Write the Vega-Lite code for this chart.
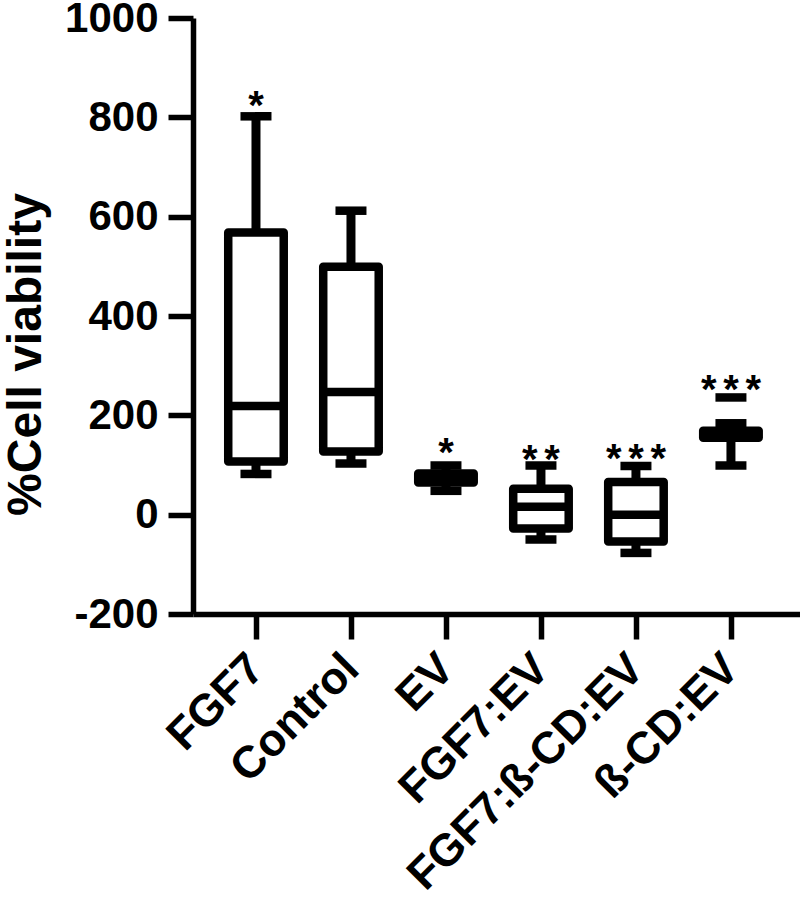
{
  "$schema": "https://vega.github.io/schema/vega-lite/v6.json",
  "autosize": {"type": "none"},
  "width": 607,
  "height": 596,
  "padding": {"left": 193, "top": 18, "right": 0, "bottom": 302},
  "background": "white",
  "config": {
    "view": {"stroke": null},
    "font": "Liberation Sans",
    "axis": {"domainColor": "black", "tickColor": "black", "labelColor": "black", "titleColor": "black", "grid": false}
  },
  "datasets": {
    "boxes": [
      {"group": "FGF7", "min": 82, "q1": 107, "median": 219, "q3": 568, "max": 802},
      {"group": "Control", "min": 103, "q1": 127, "median": 247, "q3": 499, "max": 612},
      {"group": "EV", "min": 48, "q1": 65, "median": 74, "q3": 83, "max": 99},
      {"group": "FGF7:EV", "min": -50, "q1": -28, "median": 16, "q3": 52, "max": 99},
      {"group": "FGF7:ß-CD:EV", "min": -77, "q1": -54, "median": 0, "q3": 66, "max": 98},
      {"group": "ß-CD:EV", "min": 99, "q1": 155, "median": 162, "q3": 169, "max": 184}
    ],
    "stars": [
      {"group": "FGF7", "label": "*", "pos": 842},
      {"group": "EV", "label": "*", "pos": 145},
      {"group": "FGF7:EV", "label": "*\u2006*", "pos": 131},
      {"group": "FGF7:ß-CD:EV", "label": "*\u2006*\u2006*", "pos": 133},
      {"group": "ß-CD:EV", "label": "*\u2006*\u2006*", "pos": 272}
    ],
    "extra": [
      {"group": "ß-CD:EV", "value": 236}
    ]
  },
  "encoding": {
    "x": {
      "field": "group", "type": "nominal",
      "sort": ["FGF7", "Control", "EV", "FGF7:EV", "FGF7:ß-CD:EV", "ß-CD:EV"],
      "scale": {"type": "point", "padding": 0.695, "align": 0.477},
      "axis": {
        "title": null, "labelAngle": -45, "labelAlign": "right", "labelBaseline": "middle",
        "labelPadding": 22, "labelFontSize": 45, "labelFontWeight": "bold", "labelLimit": 0,
        "tickSize": 25, "tickWidth": 5.5, "domainWidth": 5.5, "labelOverlap": false, "labelBound": false
      }
    }
  },
  "layer": [
    {
      "data": {"name": "boxes"},
      "mark": {"type": "rule", "color": "black", "strokeWidth": 9},
      "encoding": {
        "y": {
          "field": "min", "type": "quantitative",
          "scale": {"domain": [-200, 1000], "nice": false, "zero": false},
          "axis": {
            "title": "%Cell viability", "values": [-200, 0, 200, 400, 600, 800, 1000],
            "labelExpr": "datum.value + ''",
            "labelFontSize": 42, "labelFontWeight": "bold", "labelPadding": 10,
            "labelFlush": false, "labelOverlap": false, "labelBound": false,
            "tickSize": 25, "tickWidth": 5.5, "domainWidth": 5.5,
            "titleFontSize": 48, "titleFontWeight": "bold", "titleAngle": 270,
            "titleX": -167, "titleY": 336, "titleAlign": "center", "titleBaseline": "middle"
          }
        },
        "y2": {"field": "max"}
      }
    },
    {
      "data": {"name": "boxes"},
      "mark": {"type": "bar", "fill": "white", "stroke": "black", "strokeWidth": 8.5, "strokeJoin": "round", "width": 55.5},
      "encoding": {
        "y": {"field": "q1", "type": "quantitative"},
        "y2": {"field": "q3"}
      }
    },
    {
      "data": {"name": "boxes"},
      "mark": {"type": "tick", "color": "black", "size": 55.5, "thickness": 8.5, "opacity": 1},
      "encoding": {"y": {"field": "median", "type": "quantitative"}}
    },
    {
      "data": {"name": "boxes"},
      "mark": {"type": "tick", "color": "black", "size": 31, "thickness": 8.5, "opacity": 1},
      "encoding": {"y": {"field": "min", "type": "quantitative"}}
    },
    {
      "data": {"name": "boxes"},
      "mark": {"type": "tick", "color": "black", "size": 31, "thickness": 8.5, "opacity": 1},
      "encoding": {"y": {"field": "max", "type": "quantitative"}}
    },
    {
      "data": {"name": "extra"},
      "mark": {"type": "tick", "color": "black", "size": 31, "thickness": 8.5, "opacity": 1},
      "encoding": {"y": {"field": "value", "type": "quantitative"}}
    },
    {
      "data": {"name": "stars"},
      "mark": {"type": "text", "fontSize": 40, "fontWeight": "bold", "color": "black", "baseline": "alphabetic", "align": "center", "dy": 23},
      "encoding": {
        "y": {"field": "pos", "type": "quantitative"},
        "text": {"field": "label"}
      }
    }
  ]
}
